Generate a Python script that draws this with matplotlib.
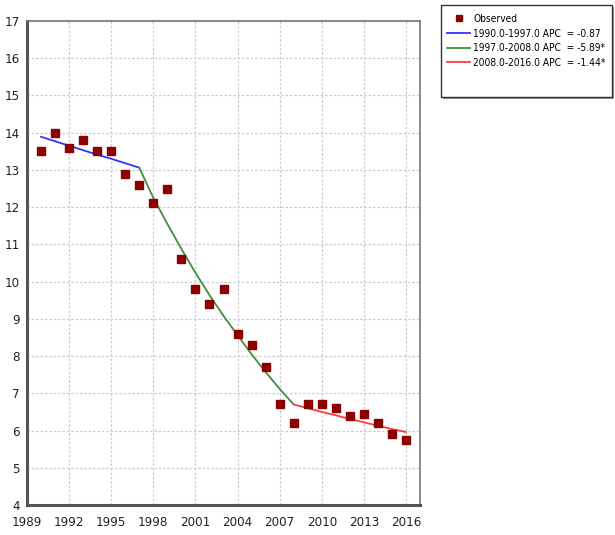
import matplotlib
matplotlib.use("Agg")
import matplotlib.pyplot as plt
from matplotlib import font_manager
from matplotlib.patches import Rectangle
from matplotlib.lines import Line2D

# observed rates
years = [1990, 1991, 1992, 1993, 1994, 1995, 1996, 1997, 1998, 1999,
         2000, 2001, 2002, 2003, 2004, 2005, 2006, 2007, 2008, 2009,
         2010, 2011, 2012, 2013, 2014, 2015, 2016]
observed = [13.5, 14.0, 13.6, 13.8, 13.5, 13.5, 12.9, 12.6, 12.1, 12.5,
            10.6, 9.8, 9.4, 9.8, 8.6, 8.3, 7.7, 6.7, 6.2, 6.7,
            6.7, 6.6, 6.4, 6.45, 6.2, 5.9, 5.75]

# joinpoint fitted segments
seg1_years = [1990, 1991, 1992, 1993, 1994, 1995, 1996, 1997]
seg1_fit = [13.89, 13.77, 13.65, 13.53, 13.41, 13.30, 13.18, 13.06]
seg2_years = [1997, 1998, 1999, 2000, 2001, 2002, 2003, 2004, 2005, 2006, 2007, 2008]
seg2_fit = [13.06, 12.25, 11.55, 10.88, 10.24, 9.64, 9.08, 8.56, 8.05, 7.57, 7.12, 6.70]
seg3_years = [2008, 2009, 2010, 2011, 2012, 2013, 2014, 2015, 2016]
seg3_fit = [6.70, 6.60, 6.50, 6.41, 6.31, 6.22, 6.13, 6.04, 5.96]

seg_labels = ["1990.0-1997.0 APC  = -0.87",
              "1997.0-2008.0 APC  = -5.89*",
              "2008.0-2016.0 APC  = -1.44*"]
seg_colors = ["#3333ff", "#3f8f3f", "#ff3b3b"]

xticks = [1989, 1992, 1995, 1998, 2001, 2004, 2007, 2010, 2013, 2016]
yticks = list(range(4, 18))

# prefer a narrow face, like the original
fonts = font_manager.fontManager.ttflist
names = {f.name for f in fonts}
if "Liberation Sans Narrow" in names:
    plt.rcParams["font.family"] = ["Liberation Sans Narrow", "DejaVu Sans"]
    tick_fs, leg_fs = 11, 9.5
elif any(f.name == "DejaVu Sans" and f.stretch == "condensed" for f in fonts):
    plt.rcParams["font.family"] = ["DejaVu Sans"]
    plt.rcParams["font.stretch"] = "condensed"
    tick_fs, leg_fs = 9.5, 7.3
else:
    plt.rcParams["font.family"] = ["Liberation Sans", "DejaVu Sans"]
    tick_fs, leg_fs = 9.5, 7.3

fig = plt.figure(figsize=(6.15, 5.35), dpi=100)
ax = fig.add_axes([27 / 615, 30 / 535, 393 / 615, 484 / 535])

ax.plot(years, observed, linestyle="none", marker="s", markersize=6.3,
        color="#8b0000", label="Observed", zorder=4)
for xs, ys, c, lab in zip([seg1_years, seg2_years, seg3_years],
                          [seg1_fit, seg2_fit, seg3_fit], seg_colors, seg_labels):
    ax.plot(xs, ys, color=c, linewidth=1.3, label=lab, zorder=3)

ax.set_xlim(1989, 2017)
ax.set_ylim(4, 17)
ax.set_xticks(xticks)
ax.set_yticks(yticks)
ax.tick_params(length=0, labelsize=tick_fs, colors="#222222")
ax.tick_params(axis="x", pad=8)
ax.tick_params(axis="y", pad=5)
ax.grid(True, linestyle=(0, (2, 1.5)), color="#cccccc", linewidth=0.9)
ax.set_axisbelow(True)

for side in ["left", "bottom"]:
    ax.spines[side].set_linewidth(2.2)
    ax.spines[side].set_color("#555555")
for side in ["top", "right"]:
    ax.spines[side].set_linewidth(1.2)
    ax.spines[side].set_color("#777777")

# legend box with a soft shadow
W, H = 615, 535
fig.patches.append(Rectangle((443 / W, 1 - 99 / H), 171 / W, 92 / H,
                             transform=fig.transFigure, facecolor="#9a9a9a",
                             edgecolor="none", zorder=1))
fig.patches.append(Rectangle((441 / W, 1 - 97 / H), 171 / W, 92 / H,
                             transform=fig.transFigure, facecolor="white",
                             edgecolor="#333333", linewidth=1.0, zorder=2))

handles, labels = ax.get_legend_handles_labels()
handles[0] = Line2D([], [], linestyle="none", marker="s", markersize=4.5,
                    color="#8b0000")
leg = fig.legend(handles, labels, loc="upper left",
                 bbox_to_anchor=(447 / W, 1 - 14 / H), fontsize=leg_fs,
                 frameon=False, handlelength=2.3, handletextpad=0.3,
                 labelspacing=0.45, borderpad=0, borderaxespad=0)
leg.set_zorder(3)

fig.savefig("out.png", dpi=100)
